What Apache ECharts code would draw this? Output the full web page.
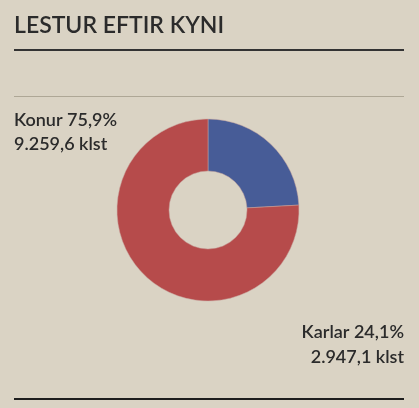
<!DOCTYPE html>
<html>
<head>
<meta charset="utf-8">
<script src="https://cdn.jsdelivr.net/npm/echarts@6/dist/echarts.min.js"></script>
<style>
  html, body { margin: 0; padding: 0; background: #dad3c4; }
  #chart { width: 419px; height: 408px; }
</style>
</head>
<body>
<div id="chart"></div>
<script>
// Data
const categories = ['Karlar', 'Konur'];
const hours = [2947.1, 9259.6];
const shares = ['24,1%', '75,9%'];
const hourLabels = ['2.947,1 klst', '9.259,6 klst'];
const sliceColors = ['#475c97', '#b64b4b'];

const chart = echarts.init(document.getElementById('chart'));

function label(text, pos, align) {
    return Object.assign({
        type: 'text',
        style: {
            text: text,
            align: align,
            fontFamily: 'Lato',
            fontSize: 18,
            fontWeight: 600,
            fill: '#2b2b2b'
        }
    }, pos);
}

const option = {
    backgroundColor: '#dad3c4',
    animation: false,
    title: {
        text: 'LESTUR EFTIR KYNI',
        left: 14,
        top: 14,
        padding: 0,
        textStyle: {
            fontFamily: 'Lato',
            fontSize: 23,
            fontWeight: 600,
            color: '#2b2b2b'
        }
    },
    graphic: [
        // heavy rule under the title
        { type: 'rect', shape: { x: 14, y: 49, width: 390, height: 2 }, style: { fill: '#333333' } },
        // thin rule
        { type: 'rect', shape: { x: 14, y: 96, width: 390, height: 1 }, style: { fill: '#aea796' } },
        // bottom rule
        { type: 'rect', shape: { x: 14, y: 398, width: 390, height: 2 }, style: { fill: '#1e1e1e' } },
        // Konur label, top left
        label(categories[1] + ' ' + shares[1], { left: 14, top: 111 }, 'left'),
        label(hourLabels[1], { left: 14, top: 135 }, 'left'),
        // Karlar label, bottom right
        label(categories[0] + ' ' + shares[0], { right: 15, top: 323 }, 'right'),
        label(hourLabels[0], { right: 15, top: 348 }, 'right')
    ],
    series: [{
        type: 'pie',
        center: [208, 210],
        radius: [39, 91],
        startAngle: 90,
        clockwise: true,
        label: { show: false },
        labelLine: { show: false },
        emphasis: { disabled: true },
        itemStyle: { borderColor: '#c9a7a0', borderWidth: 0.5 },
        data: categories.map((name, i) => ({
            name: name,
            value: hours[i],
            itemStyle: { color: sliceColors[i] }
        }))
    }]
};

chart.setOption(option);
</script>
</body>
</html>
